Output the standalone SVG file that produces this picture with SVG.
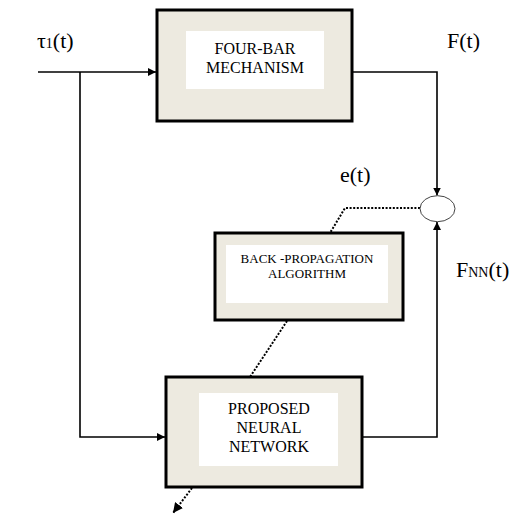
<svg xmlns="http://www.w3.org/2000/svg" width="514" height="516" viewBox="0 0 514 516">
<style>
text{font-family:"Liberation Serif","Times New Roman",Times,"DejaVu Serif",serif;fill:#000}
.outer{fill:#EDEAE0;stroke:#000;stroke-width:3}
.inner{fill:#fff;stroke:none}
.btxt{text-anchor:middle}
.lbl{font-size:22px}
.wire{fill:none;stroke:#000;stroke-width:1.6}
.dot{fill:none;stroke:#000;stroke-width:2;stroke-dasharray:2 1.6}
</style>
<defs>
<marker id="ah" viewBox="0 0 10 10" refX="10" refY="5" markerWidth="8" markerHeight="8" markerUnits="userSpaceOnUse" orient="auto">
<path d="M0,0 L10,5 L0,10 z" fill="#000"/>
</marker>
<marker id="ahd" viewBox="0 0 10 10" refX="10" refY="5" markerWidth="10" markerHeight="10" markerUnits="userSpaceOnUse" orient="auto">
<path d="M0,0 L10,5 L0,10 z" fill="#000"/>
</marker>
</defs>
<rect width="514" height="516" fill="#fff"/>
<g id="connectors">
<path class="wire" d="M38,72 H156" marker-end="url(#ah)"/>
<path class="wire" d="M80,72 V437 H165" marker-end="url(#ah)"/>
<path class="wire" d="M352,72 H437 V195.5" marker-end="url(#ah)"/>
<path class="wire" d="M362,437 H437 V222" marker-end="url(#ah)"/>
<path class="dot" d="M420,208 H345 L330,233"/>
<path class="dot" d="M287,321 L250,377"/>
<path class="dot" d="M192,488 L173,513" marker-end="url(#ahd)"/>
</g>
<g id="four-bar">
<rect class="outer" x="157" y="10" width="195" height="111"/>
<rect class="inner" x="186" y="31" width="138" height="58"/>
<text class="btxt" font-size="16" x="255" y="54">FOUR-BAR</text>
<text class="btxt" font-size="16" x="255" y="73">MECHANISM</text>
</g>
<g id="backprop">
<rect class="outer" x="215" y="233" width="188" height="87"/>
<rect class="inner" x="226" y="245" width="162" height="58"/>
<text class="btxt" font-size="13" x="307" y="263">BACK -PROPAGATION</text>
<text class="btxt" font-size="13" x="307" y="278">ALGORITHM</text>
</g>
<g id="neural-network">
<rect class="outer" x="166" y="377" width="196" height="110"/>
<rect class="inner" x="199" y="393" width="139" height="73"/>
<text class="btxt" font-size="16" x="269" y="414">PROPOSED</text>
<text class="btxt" font-size="16" x="269" y="433">NEURAL</text>
<text class="btxt" font-size="16" x="269" y="452">NETWORK</text>
</g>
<g id="sum">
<ellipse cx="437.5" cy="208.7" rx="17.5" ry="13" fill="#fff" stroke="#444" stroke-width="1"/>
</g>
<g id="labels">
<text class="lbl" x="37" y="48">τ<tspan font-size="14">1</tspan>(t)</text>
<text class="lbl" x="447" y="48">F(t)</text>
<text class="lbl" x="340" y="182">e(t)</text>
<text class="lbl" x="456" y="277">F<tspan font-size="14">NN</tspan>(t)</text>
</g>
</svg>
